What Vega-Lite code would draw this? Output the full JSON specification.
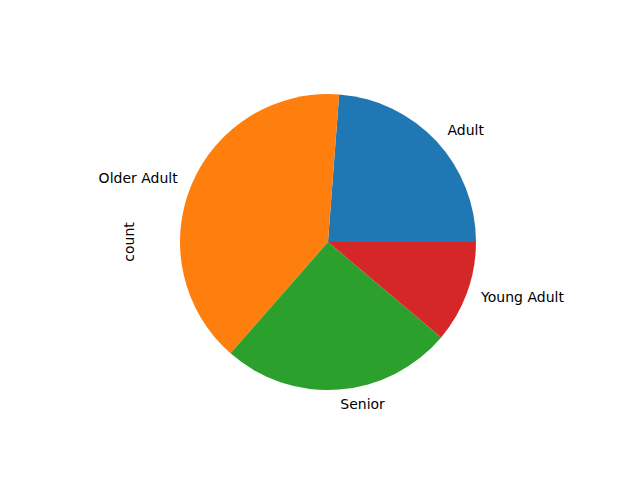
{
  "$schema": "https://vega.github.io/schema/vega-lite/v6.json",
  "autosize": "none",
  "width": 296,
  "height": 296,
  "padding": {"left": 180, "top": 94, "right": 164, "bottom": 90},
  "background": "white",
  "title": {"text": "count", "orient": "left", "offset": -38, "fontSize": 14, "fontWeight": "normal", "font": "DejaVu Sans", "color": "black", "anchor": "middle"},
  "config": {"view": {"stroke": null}},
  "data": {"values": [
    {"group": "Adult", "count": 23.8},
    {"group": "Older Adult", "count": 39.75},
    {"group": "Senior", "count": 25.3},
    {"group": "Young Adult", "count": 11.15}
  ]},
  "encoding": {
    "theta": {"field": "count", "type": "quantitative", "stack": true, "scale": {"range": [1.5707963, -4.712389]}},
    "order": {"field": "group", "type": "nominal", "sort": "ascending"}
  },
  "layer": [
    {
      "mark": {"type": "arc", "radius": 148},
      "encoding": {
        "color": {"field": "group", "type": "nominal", "legend": null,
          "scale": {"domain": ["Adult", "Older Adult", "Senior", "Young Adult"], "range": ["#1f77b4", "#ff7f0e", "#2ca02c", "#d62728"]}}
      }
    },
    {
      "mark": {"type": "text", "radius": 163, "align": "left", "baseline": "middle", "fontSize": 14, "font": "DejaVu Sans", "color": "black"},
      "encoding": {
        "text": {"condition": {"test": "datum.group !== 'Older Adult'", "field": "group"}, "value": ""}
      }
    },
    {
      "mark": {"type": "text", "radius": 163, "align": "right", "baseline": "middle", "fontSize": 14, "font": "DejaVu Sans", "color": "black"},
      "encoding": {
        "text": {"condition": {"test": "datum.group === 'Older Adult'", "field": "group"}, "value": ""}
      }
    }
  ]
}
